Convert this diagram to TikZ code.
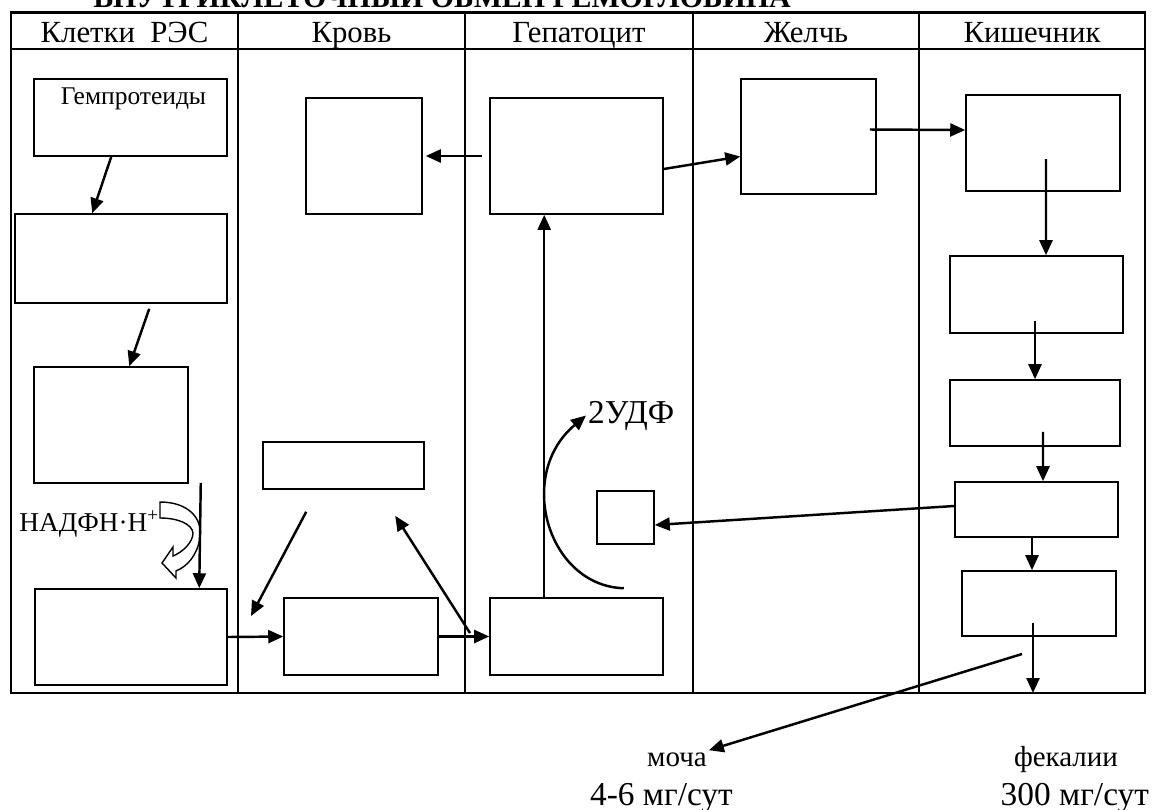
\documentclass[tikz,border=0pt]{standalone}
\usepackage{fontspec}
\setmainfont{Liberation Serif}
\usetikzlibrary{arrows.meta,calc}

\tikzset{
  tbl/.style={line width=1.3pt},
  blk/.style 2 args={draw, line width=0.9pt, minimum width=#1cm, minimum height=#2cm, inner sep=0pt},
  arr/.style={line width=1.4pt, -{Triangle[length=0.3cm,width=0.26cm]}},
  hollow/.style={draw, fill=white, line width=0.8pt},
  head/.style={anchor=base, inner sep=0pt, font=\fontsize{17.5}{20}\selectfont},
  lbl/.style={inner sep=1pt, font=\fontsize{16.5}{19}\selectfont},
  big/.style={inner sep=1pt, font=\fontsize{19}{22}\selectfont},
}

\begin{document}
\begin{tikzpicture}[x=0.02cm, y=-0.02cm]
\useasboundingbox (0,0) rectangle (1153,809);

% title, cut by the page edge
\node[anchor=base, inner sep=0pt, font=\fontsize{17}{20}\selectfont\bfseries] (ttl) at (442,7) {ВНУТРИКЛЕТОЧНЫЙ ОБМЕН ГЕМОГЛОБИНА};

% table
\draw[tbl] (11,12.5) rectangle (1145,693);
\draw[tbl] (11,49) -- (1145,49);
\foreach \x in {238,465,693,919}
  \draw[tbl] (\x,12.5) -- (\x,693);

% column heads
\node[head] (hres) at (124.5,42) {Клетки\ \ РЭС};
\node[head] (hbl) at (351.5,42) {Кровь};
\node[head] (hhp) at (579,42) {Гепатоцит};
\node[head] (hbi) at (806,42) {Желчь};
\node[head] (hki) at (1032,42) {Кишечник};

% boxes
\node[blk={3.86}{1.54}] (gem) at (130.5,117.5) {};
\node[lbl, anchor=base, font=\fontsize{14.5}{17}\selectfont] (gemt) at ($(gem.north)+(3,26)$) {Гемпротеиды};
\node[blk={4.24}{1.78}] (c1b) at (121,258.5) {};
\node[blk={3.08}{2.32}] (c1c) at (111,425) {};
\node[blk={3.84}{1.92}] (c1d) at (131,637) {};

\node[blk={2.32}{2.32}] (bl1) at (364,156) {};
\node[blk={3.22}{0.94}] (bl2) at (343.5,465.5) {};
\node[blk={3.08}{1.54}] (bl3) at (361,636.5) {};

\node[blk={3.46}{2.32}] (hp1) at (576.5,156) {};
\node[blk={1.14}{1.06}] (hp2) at (625.5,517.5) {};
\node[blk={3.46}{1.54}] (hp3) at (576.5,636.5) {};

\node[blk={2.70}{2.30}] (bi1) at (808.5,136.5) {};

\node[blk={3.08}{1.92}] (k1) at (1043,143) {};
\node[blk={3.46}{1.54}] (k2) at (1036.5,294.5) {};
\node[blk={3.40}{1.32}] (k3) at (1035,413) {};
\node[blk={3.26}{1.10}] (k4) at (1036.5,509.5) {};
\node[blk={3.08}{1.30}] (k5) at (1039,603.5) {};

% labels
\node[lbl, anchor=base east, font=\fontsize{15.5}{18}\selectfont] (nadph) at (161,531) {НАДФН·Н\textsuperscript{+}};
\node[big, anchor=base west] (udf) at (586,423) {2УДФ};
\node[lbl, anchor=base] (moch) at (677,766) {моча};
\node[lbl, anchor=base] (fekl) at (1066,766) {фекалии};
\node[big, anchor=base west] (mrate) at (588,805) {4-6 мг/сут};
\node[big, anchor=base east] (frate) at (1151,805) {300 мг/сут};

% cells of RES
\draw[arr] ($(gem.south west)+(78,0)$) -- ($(c1b.north west)+(78,0)$);
\draw[arr] ($(c1b.south west)+(135,5)$) -- ($(c1c.north west)+(96,0)$);
\draw[hollow] (160,502) .. controls (188,502) and (203,518) .. (200,538)
  .. controls (197,555) and (188,566) .. (176,571) -- (176,578) -- (162,563)
  -- (173,547) -- (173,556) .. controls (183,552) and (193,542) .. (193,533)
  .. controls (192,524) and (178,518) .. (160,518) -- cycle;
\draw[arr] ($(c1c.south east)+(12,-1)$) -- ($(c1d.north west)+(165,0)$);

% blood and liver
\draw[arr] (c1d.east) -- (bl3.west);
\draw[arr] (bl3.east) -- (hp3.west);
\coordinate (bl2a) at (251,616);
\draw[arr] ($(bl2.south west)+(44,22)$) -- (bl2a);
\coordinate (bl3a) at (470,633);
\draw[arr] (bl3a) -- ($(bl2.south west)+(133,26)$);
\draw[arr] ($(hp3.north west)+(55,0)$) -- ($(hp1.south west)+(55,0)$);
\draw[arr] ($(hp3.north east)+(-40,-9)$) .. controls (548,586) and (515,475) .. (udf.west);
\draw[arr] ($(hp1.west)+(-7,0)$) -- ($(bl1.east)+(3,0)$);
\draw[arr] ($(hp1.east)+(0,13)$) -- ($(bi1.west)+(0,20)$);

% bile and gut
\draw[arr] ($(bi1.east)+(-7,-7)$) -- ($(k1.west)+(0,-13)$);
\draw[arr] ($(k1.center)+(3,16)$) -- ($(k2.north)+(9.5,0)$);
\draw[arr] ($(k2.south)+(-1.5,-13)$) -- (k3.north);
\draw[arr] ($(k3.south)+(8,-15)$) -- ($(k4.north)+(6.5,0)$);
\draw[arr] ($(k4.south)+(-4.5,0)$) -- ($(k5.north)+(-7,0)$);
\coordinate (fec) at (1033,693);
\draw[arr] ($(k5.south)+(-6,-14)$) -- (fec);
\draw[arr] ($(k4.west)+(0,-3.5)$) -- ($(hp2.east)+(0,7.5)$);
\coordinate (urs) at (1022,654);
\draw[arr] (urs) -- (moch.north east);

\end{tikzpicture}
\end{document}
